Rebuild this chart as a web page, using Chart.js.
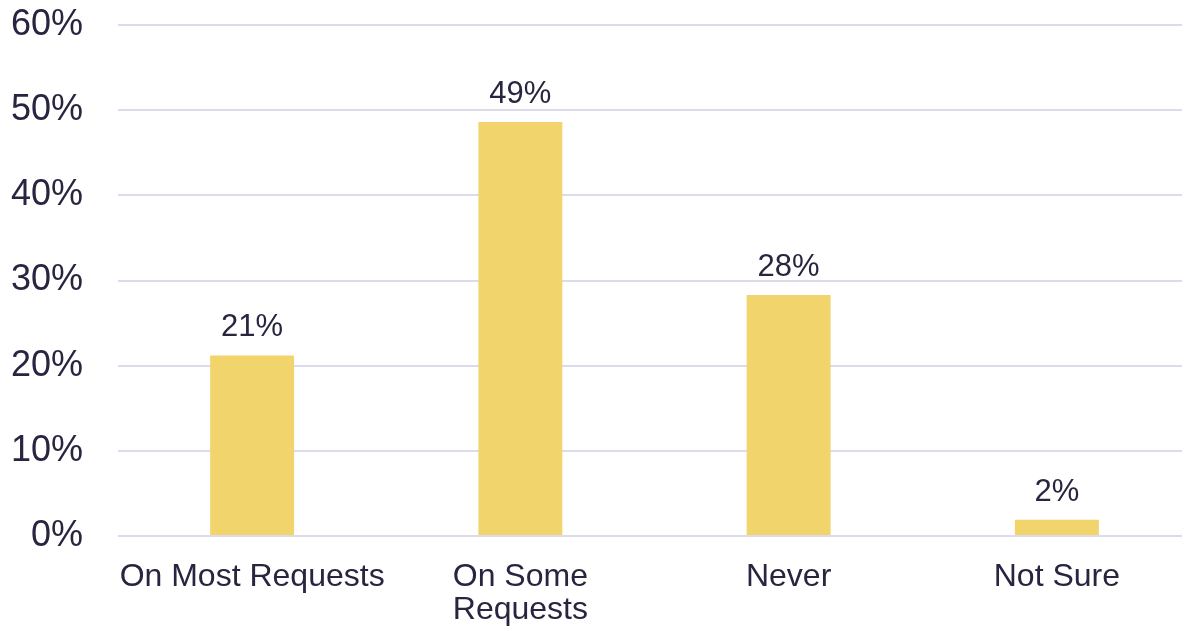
<!DOCTYPE html>
<html>
<head>
<meta charset="utf-8">
<script src="https://cdn.jsdelivr.net/npm/chart.js@4/dist/chart.umd.min.js"></script>
<style>
    html, body { margin: 0; padding: 0; background: #ffffff; overflow: hidden; }
    #wrap { width: 1191px; height: 628px; position: relative; }
</style>
</head>
<body>
<div id="wrap"><canvas id="bar-chart"></canvas></div>
<script>
const categories = [['On Most Requests'], ['On Some', 'Requests'], ['Never'], ['Not Sure']];
const shares = [21.2, 48.6, 28.3, 1.9];
const yTicks = [0, 10, 20, 30, 40, 50, 60];

const textColor = '#27253f';
const fontFamily = '"Liberation Sans", Arial, sans-serif';

// draws "49%" etc. above each bar
const valueLabels = {
    id: 'valueLabels',
    afterDatasetsDraw(chart) {
        const ctx = chart.ctx;
        const meta = chart.getDatasetMeta(0);
        ctx.save();
        ctx.font = '31px ' + fontFamily;
        ctx.fillStyle = textColor;
        ctx.textAlign = 'center';
        ctx.textBaseline = 'alphabetic';
        meta.data.forEach((bar, i) => {
            ctx.fillText(Math.round(shares[i]) + '%', bar.x, bar.y - 19);
        });
        ctx.restore();
    }
};

new Chart(document.getElementById('bar-chart').getContext('2d'), {
    type: 'bar',
    data: {
        labels: categories,
        datasets: [{
            data: shares,
            backgroundColor: '#f2d46d',
            borderWidth: 0,
            barPercentage: 1,
            categoryPercentage: 0.313
        }]
    },
    options: {
        responsive: true,
        maintainAspectRatio: false,
        animation: false,
        layout: {
            padding: { top: 25, right: 0, bottom: 0, left: 0 }
        },
        scales: {
            x: {
                afterFit(axis) {
                    axis.height = 92;
                    axis.paddingLeft = 0;
                    axis.paddingRight = 0;
                },
                grid: { display: false, drawTicks: false },
                border: { display: false },
                ticks: {
                    color: textColor,
                    font: { family: fontFamily, size: 32, lineHeight: 1.05 },
                    padding: 24,
                    maxRotation: 0,
                    autoSkip: false
                }
            },
            y: {
                min: 0,
                max: 60,
                afterBuildTicks(axis) {
                    axis.ticks = yTicks.map(v => ({ value: v }));
                },
                afterFit(axis) {
                    axis.width = 118;
                    axis.paddingTop = 0;
                    axis.paddingBottom = 0;
                },
                grid: { color: '#dddbea', lineWidth: 2, drawTicks: false },
                border: { display: false },
                ticks: {
                    color: textColor,
                    font: { family: fontFamily, size: 36 },
                    padding: 35,
                    callback: v => v + '%'
                }
            }
        },
        plugins: {
            legend: { display: false },
            tooltip: { enabled: false }
        }
    },
    plugins: [valueLabels]
});
</script>
</body>
</html>
